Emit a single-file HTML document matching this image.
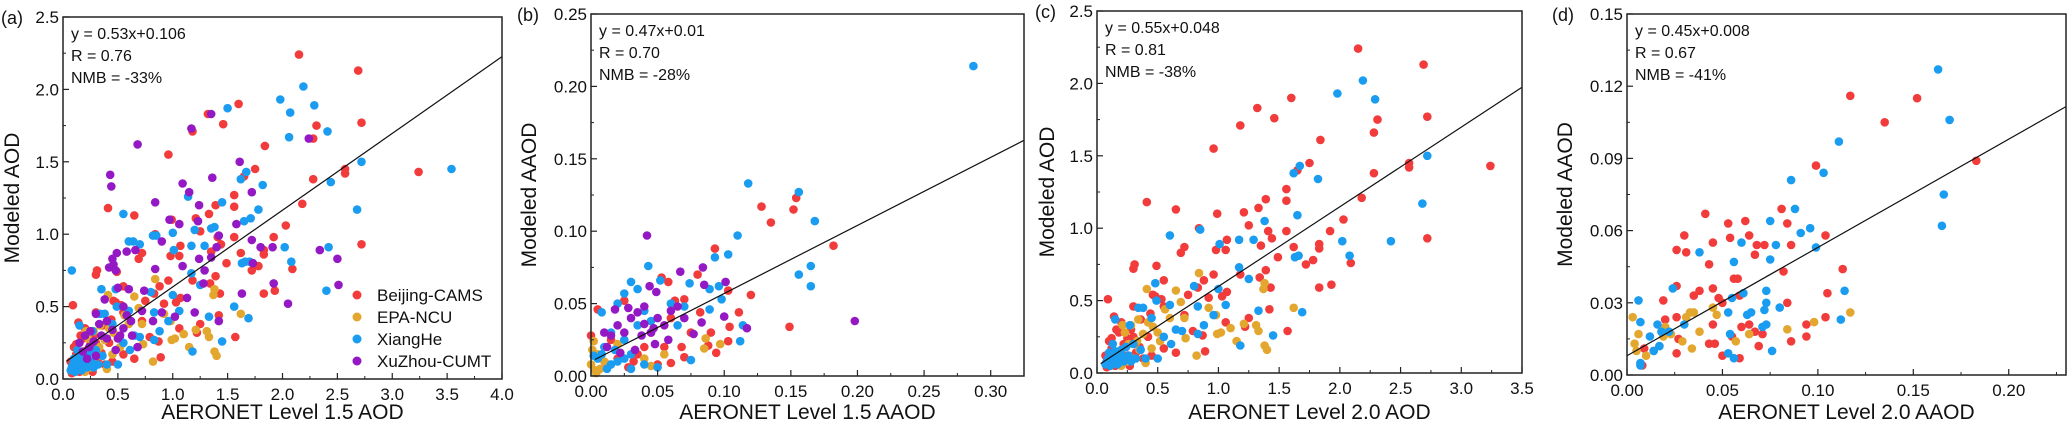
<!DOCTYPE html>
<html><head><meta charset="utf-8">
<style>
html,body{margin:0;padding:0;background:#fff;}
svg{display:block;font-family:"Liberation Sans",Arial,sans-serif;}
</style></head>
<body>
<svg id="chart" width="2067" height="427" viewBox="0 0 2067 427" xmlns="http://www.w3.org/2000/svg"></svg>
<script>
// ---- Data ----
const beijingC = [[2.15,2.24],[2.69,2.13],[1.6,1.9],[1.32,1.83],[1.46,1.76],[2.72,1.77],[2.31,1.75],[1.18,1.71],[2.28,1.66],[1.84,1.61],[0.96,1.55],[1.75,1.45],[2.57,1.45],[2.57,1.42],[3.24,1.43],[2.28,1.38],[1.65,1.4],[1.56,1.27],[2.18,1.21],[1.39,1.2],[1.56,1.19],[0.41,1.18],[0.65,1.13],[1.33,1.14],[1.21,1.11],[0.99,1.1],[1.25,1.02],[0.84,1.0],[2.03,1.06],[1.41,0.98],[1.56,0.98],[1.92,0.98],[1.07,0.92],[1.44,0.93],[2.72,0.93],[1.35,0.88],[1.83,0.89],[0.72,0.87],[0.69,0.83],[0.98,0.85],[1.06,0.85],[1.62,0.87],[1.49,0.8],[1.78,0.78],[1.83,0.86],[1.72,0.75],[2.09,0.76],[0.3,0.72],[0.31,0.75],[0.49,0.74],[1.18,0.68],[1.34,0.66],[1.39,0.71],[1.83,0.59],[1.43,0.59],[1.93,0.61],[0.55,0.64],[0.88,0.64],[0.96,0.68],[0.83,0.59],[1.07,0.56],[1.03,0.53],[0.09,0.51],[0.46,0.54],[0.48,0.53],[0.53,0.51],[0.75,0.54],[0.92,0.52],[0.3,0.46],[0.55,0.46],[0.44,0.41],[0.72,0.4],[0.36,0.37],[1.22,0.32],[1.25,0.38],[1.42,0.44],[1.06,0.35],[0.14,0.39],[0.2,0.35],[0.79,0.29],[0.87,0.26],[1.57,0.29],[0.89,0.15],[0.65,0.14],[0.55,0.17],[0.35,0.18],[0.25,0.24],[0.12,0.24],[0.08,0.04],[0.2,0.1],[0.32,0.14],[0.12,0.17],[0.18,0.28],[0.28,0.3],[0.42,0.25],[0.1,0.08],[0.15,0.05],[0.25,0.12],[0.38,0.1],[0.1,0.22],[0.16,0.3],[0.22,0.2],[0.3,0.25],[0.07,0.12],[0.13,0.06],[0.27,0.05],[0.45,0.12]];
const epaC = [[0.84,0.69],[1.38,0.62],[1.37,0.58],[0.41,0.58],[0.65,0.57],[0.69,0.49],[0.92,0.45],[0.56,0.44],[0.34,0.37],[0.28,0.33],[0.46,0.32],[0.21,0.33],[0.98,0.4],[0.6,0.38],[0.72,0.38],[1.21,0.34],[1.31,0.33],[1.33,0.29],[0.99,0.27],[1.02,0.28],[1.1,0.31],[0.73,0.24],[1.15,0.22],[1.38,0.19],[1.4,0.16],[0.82,0.12],[1.62,0.45],[0.26,0.2],[0.4,0.07],[0.35,0.16],[0.3,0.1],[0.2,0.05],[0.5,0.28],[0.38,0.27],[0.45,0.17],[0.52,0.22],[0.25,0.08],[0.33,0.22],[0.18,0.15],[0.23,0.28],[0.42,0.35],[0.15,0.08]];
const xiangheC = [[2.19,2.02],[1.98,1.93],[2.29,1.89],[2.72,1.5],[1.67,1.43],[1.62,1.38],[1.82,1.34],[2.68,1.17],[1.65,1.09],[1.38,1.05],[0.85,0.99],[1.01,0.89],[1.17,0.92],[1.29,0.92],[2.42,0.91],[2.02,0.91],[0.6,0.95],[1.63,0.8],[1.66,0.81],[2.08,0.81],[1.17,0.73],[1.25,0.65],[0.8,0.6],[1.0,0.58],[0.48,0.62],[0.83,0.46],[0.49,0.5],[1.06,0.47],[0.6,0.47],[1.33,0.43],[1.69,0.42],[0.34,0.45],[0.38,0.45],[0.96,0.4],[0.45,0.38],[0.88,0.33],[0.15,0.37],[0.27,0.33],[1.45,0.26],[1.18,0.19],[0.61,0.2],[0.7,0.29],[0.83,0.27],[0.5,0.1],[0.4,0.1],[0.28,0.08],[0.2,0.12],[0.15,0.15],[0.12,0.1],[0.1,0.06],[0.08,0.08],[0.17,0.06],[0.24,0.18],[0.3,0.2],[0.13,0.2],[0.1,0.14],[0.22,0.08],[0.36,0.16],[0.55,0.25],[0.65,0.3],[0.14,0.12],[0.18,0.09],[0.09,0.1],[0.11,0.05],[0.16,0.1],[0.2,0.16],[0.26,0.12],[0.32,0.1],[0.07,0.06],[0.12,0.13]];
const xiangheExtraA = [[0.08,0.75],[0.55,1.14],[0.64,0.95],[0.82,0.99],[1.5,1.87],[2.07,1.84],[2.41,1.71],[2.06,1.67],[3.54,1.45],[2.44,1.36],[1.14,1.26],[1.45,1.22],[1.35,1.04],[1.78,1.17],[2.4,0.61],[1.56,0.5],[1.7,0.81],[0.35,0.62],[1.0,1.01],[1.71,1.11],[0.7,0.93],[1.2,1.03]];
const xuzhouA = [[0.68,1.62],[0.43,1.41],[0.44,1.33],[1.35,1.83],[1.17,1.73],[2.24,1.66],[1.61,1.5],[1.09,1.35],[1.15,1.29],[1.36,1.39],[0.84,1.22],[1.24,1.2],[0.97,1.1],[1.23,1.09],[1.58,1.07],[1.72,1.29],[1.06,1.07],[1.42,0.99],[0.9,0.95],[1.24,0.83],[1.4,0.91],[1.72,0.96],[1.8,0.91],[1.91,0.91],[2.34,0.89],[2.5,0.83],[1.73,0.8],[0.42,0.77],[0.45,0.83],[0.49,0.87],[0.58,0.88],[0.66,0.89],[0.46,0.79],[0.48,0.75],[0.84,0.76],[1.09,0.78],[1.29,0.75],[1.28,0.66],[1.35,0.84],[1.63,0.59],[1.92,0.66],[2.51,0.65],[2.05,0.52],[1.13,0.56],[0.74,0.61],[0.6,0.62],[0.5,0.63],[0.38,0.55],[0.55,0.5],[0.72,0.47],[0.82,0.4],[1.42,0.4],[1.2,0.46],[0.3,0.45],[0.4,0.4],[0.35,0.3],[0.5,0.28],[0.63,0.3],[0.68,0.22],[0.28,0.26],[0.24,0.22],[0.18,0.19],[0.3,0.16],[0.45,0.34],[0.58,0.44],[0.9,0.46],[1.02,0.43],[0.2,0.3],[0.15,0.25],[0.48,0.2],[0.52,0.3],[0.62,0.4],[0.25,0.33],[0.33,0.38],[0.4,0.28],[0.55,0.35],[0.22,0.14]];

const beijingB = [[0.128,0.117],[0.135,0.106],[0.152,0.115],[0.154,0.123],[0.182,0.09],[0.093,0.088],[0.08,0.07],[0.103,0.059],[0.12,0.056],[0.082,0.044],[0.111,0.044],[0.104,0.034],[0.149,0.034],[0.09,0.03],[0.103,0.024],[0.094,0.016],[0.088,0.021],[0.07,0.053],[0.063,0.052],[0.058,0.065],[0.053,0.068],[0.025,0.052],[0.005,0.046],[0.06,0.04],[0.045,0.03],[0.068,0.02],[0.07,0.013],[0.05,0.008],[0.028,0.006],[0.055,0.02],[0.015,0.025],[0.035,0.015],[0.04,0.02],[0.06,0.009],[0.0,0.028],[0.075,0.03],[0.02,0.012],[0.032,0.01],[0.012,0.008]];
const epaB = [[0.086,0.026],[0.097,0.022],[0.085,0.019],[0.002,0.024],[0.005,0.015],[0.0,0.008],[0.003,0.004],[0.01,0.01],[0.055,0.015],[0.04,0.012],[0.045,0.007],[0.02,0.022],[0.007,0.005],[0.001,0.018],[0.004,0.002]];
const xiangheB = [[0.287,0.214],[0.118,0.133],[0.156,0.127],[0.168,0.107],[0.11,0.097],[0.103,0.084],[0.093,0.082],[0.043,0.076],[0.165,0.076],[0.156,0.07],[0.165,0.062],[0.074,0.064],[0.089,0.06],[0.096,0.062],[0.098,0.053],[0.089,0.046],[0.112,0.024],[0.114,0.035],[0.075,0.011],[0.03,0.065],[0.025,0.057],[0.035,0.06],[0.052,0.066],[0.02,0.05],[0.04,0.045],[0.06,0.05],[0.008,0.044],[0.015,0.03],[0.025,0.025],[0.01,0.02],[0.005,0.012],[0.02,0.01],[0.03,0.015],[0.04,0.008],[0.05,0.006],[0.012,0.005],[0.035,0.035],[0.045,0.038],[0.07,0.048],[0.065,0.035],[0.002,0.014],[0.018,0.018],[0.015,0.008],[0.025,0.012],[0.008,0.015],[0.03,0.005]];
const xuzhouB = [[0.042,0.097],[0.084,0.075],[0.067,0.072],[0.101,0.065],[0.085,0.063],[0.198,0.038],[0.117,0.033],[0.1,0.041],[0.077,0.029],[0.083,0.037],[0.044,0.062],[0.049,0.058],[0.04,0.048],[0.035,0.044],[0.03,0.04],[0.05,0.04],[0.055,0.035],[0.045,0.03],[0.038,0.028],[0.06,0.045],[0.02,0.035],[0.025,0.03],[0.015,0.028],[0.028,0.047],[0.018,0.046],[0.01,0.03],[0.058,0.025],[0.048,0.022],[0.033,0.018],[0.065,0.048],[0.07,0.04],[0.012,0.02],[0.04,0.036],[0.047,0.033],[0.022,0.016]];

const beijingD = [[0.117,0.116],[0.152,0.115],[0.135,0.105],[0.183,0.089],[0.099,0.087],[0.081,0.069],[0.084,0.063],[0.041,0.067],[0.062,0.064],[0.053,0.063],[0.03,0.058],[0.064,0.058],[0.054,0.057],[0.104,0.058],[0.026,0.052],[0.031,0.051],[0.045,0.055],[0.072,0.054],[0.068,0.054],[0.086,0.054],[0.067,0.05],[0.043,0.046],[0.082,0.043],[0.113,0.044],[0.056,0.04],[0.058,0.04],[0.026,0.037],[0.045,0.036],[0.035,0.033],[0.038,0.035],[0.019,0.031],[0.048,0.032],[0.059,0.033],[0.084,0.03],[0.105,0.034],[0.05,0.03],[0.02,0.023],[0.026,0.024],[0.045,0.021],[0.064,0.021],[0.104,0.024],[0.094,0.021],[0.06,0.02],[0.067,0.018],[0.071,0.017],[0.055,0.016],[0.094,0.016],[0.086,0.014],[0.027,0.015],[0.043,0.013],[0.046,0.013],[0.069,0.012],[0.026,0.009],[0.05,0.008],[0.059,0.007],[0.008,0.004],[0.009,0.011]];
const epaD = [[0.003,0.024],[0.033,0.026],[0.035,0.026],[0.031,0.024],[0.045,0.028],[0.047,0.025],[0.117,0.026],[0.098,0.022],[0.084,0.019],[0.064,0.017],[0.038,0.018],[0.006,0.017],[0.019,0.016],[0.023,0.017],[0.029,0.014],[0.034,0.011],[0.004,0.013],[0.057,0.014],[0.005,0.01],[0.01,0.008],[0.014,0.01],[0.017,0.012],[0.02,0.02]];
const xiangheD = [[0.163,0.127],[0.169,0.106],[0.111,0.097],[0.103,0.084],[0.086,0.081],[0.088,0.069],[0.166,0.075],[0.165,0.062],[0.075,0.064],[0.096,0.061],[0.091,0.059],[0.06,0.055],[0.078,0.054],[0.099,0.053],[0.038,0.051],[0.056,0.047],[0.075,0.048],[0.024,0.036],[0.073,0.035],[0.114,0.035],[0.061,0.034],[0.055,0.032],[0.073,0.03],[0.08,0.028],[0.006,0.031],[0.053,0.026],[0.072,0.027],[0.063,0.025],[0.065,0.026],[0.112,0.023],[0.007,0.022],[0.016,0.021],[0.03,0.021],[0.071,0.02],[0.073,0.021],[0.018,0.018],[0.022,0.018],[0.012,0.016],[0.054,0.017],[0.017,0.012],[0.014,0.01],[0.076,0.01],[0.053,0.009],[0.056,0.007],[0.007,0.005],[0.007,0.004]];

const ticksA = ["0.0","0.5","1.0","1.5","2.0","2.5","3.0","3.5","4.0"];
const ticksAY = ["0.0","0.5","1.0","1.5","2.0","2.5"];
const ticksB = ["0.00","0.05","0.10","0.15","0.20","0.25","0.30"];
const ticksBY = ["0.00","0.05","0.10","0.15","0.20","0.25"];
const ticksC = ["0.0","0.5","1.0","1.5","2.0","2.5","3.0","3.5"];
const ticksD = ["0.00","0.05","0.10","0.15","0.20"];
const ticksDY = ["0.00","0.03","0.06","0.09","0.12","0.15"];
const fitSlopes = [0.53,0.47,0.55,0.45];
const fitIntercepts = [0.106,0.01,0.048,0.008];

const COL = {bj:"#f23b3b", epa:"#e3a72f", xh:"#1a9cf0", xz:"#9418c4"};
const NS = "http://www.w3.org/2000/svg";
const svg = document.getElementById('chart');
function mk(tag, attrs, parent){ const e=document.createElementNS(NS,tag); for(const k in attrs) e.setAttribute(k,attrs[k]); (parent||svg).appendChild(e); return e; }

function panel(cfg){
  const g = mk('g',{});
  
  
  const sx = v => cfg.L + (v - 0)/cfg.xmax*(cfg.R-cfg.L);
  const sy = v => cfg.B - v/cfg.ymax*(cfg.B-cfg.T);
  cfg.series.forEach(s=>{
    const sg = mk('g',{},g);
    
    
    s.data.forEach(p=>{
      const c = mk('circle',{cx:sx(p[0]).toFixed(1), cy:sy(p[1]).toFixed(1), r:4.3, fill:s.color},sg);
      
      
    });
  });
  const x0 = cfg.fitStart, x1 = cfg.xmax;
  const fl = mk('line',{x1:sx(x0),y1:sy(cfg.m*x0+cfg.b),x2:sx(x1),y2:sy(cfg.m*x1+cfg.b),stroke:"#111","stroke-width":1.2},g);
  
  
  const fr = mk('rect',{x:cfg.L,y:cfg.T,width:cfg.R-cfg.L,height:cfg.B-cfg.T,fill:"none",stroke:"#222","stroke-width":1.5},g);
  
  
  cfg.xt.forEach((t,i)=>{
    const v = i*cfg.xstep, x = sx(v);
    mk('line',{x1:x,y1:cfg.B,x2:x,y2:cfg.B-6,stroke:"#222","stroke-width":1.2},g);
    const vm = v + cfg.xstep/2;
    if (vm < cfg.xmax) mk('line',{x1:sx(vm),y1:cfg.B,x2:sx(vm),y2:cfg.B-3,stroke:"#222","stroke-width":1},g);
    const tx = mk('text',{x:x,y:cfg.B+21,"font-size":17,"text-anchor":"middle",fill:"#111"},g);
    tx.textContent = t;
    
    
  });
  cfg.yt.forEach((t,i)=>{
    const v = i*cfg.ystep, y = sy(v);
    mk('line',{x1:cfg.L,y1:y,x2:cfg.L+6,y2:y,stroke:"#222","stroke-width":1.2},g);
    const vm = v + cfg.ystep/2;
    if (vm < cfg.ymax) mk('line',{x1:cfg.L,y1:sy(vm),x2:cfg.L+3,y2:sy(vm),stroke:"#222","stroke-width":1},g);
    const ty = mk('text',{x:cfg.L-4,y:y+6,"font-size":17,"text-anchor":"end",fill:"#111"},g);
    ty.textContent = t;
    
    
  });
  const xtl = mk('text',{x:(cfg.L+cfg.R)/2,y:419,"font-size":21,"text-anchor":"middle",fill:"#111"},g);
  xtl.textContent = cfg.xlabel;
  
  
  const yc = (cfg.T+cfg.B)/2;
  const ytl = mk('text',{x:cfg.ytx,y:yc,"font-size":21,"text-anchor":"middle",fill:"#111",transform:`rotate(-90 ${cfg.ytx} ${yc})`},g);
  ytl.textContent = cfg.ylabel;
  
  
  const pl = mk('text',{x:cfg.plx,y:cfg.T+7,"font-size":18,fill:"#111"},g);
  pl.textContent = '('+cfg.id+')';
  
  
  cfg.stats.forEach((s,i)=>{
    const st = mk('text',{x:cfg.L+8,y:cfg.T+22+i*22,"font-size":16,fill:"#111"},g);
    st.textContent = s;
    
    
  });
  return {g,sx,sy};
}

panel({id:'a',L:63,R:502,T:17,B:379,xmax:4,ymax:2.5,xstep:0.5,ystep:0.5,xt:ticksA,yt:ticksAY,m:fitSlopes[0],b:fitIntercepts[0],fitStart:0.03,
  xlabel:"AERONET Level 1.5 AOD",ylabel:"Modeled AOD",ytx:19,plx:1,
  stats:["y = 0.53x+0.106","R = 0.76","NMB = -33%"],
  series:[{name:'beijing-cams',data:beijingC,color:COL.bj},{name:'epa-ncu',data:epaC,color:COL.epa},{name:'xianghe',data:xiangheC.concat(xiangheExtraA),color:COL.xh},{name:'xuzhou-cumt',data:xuzhouA,color:COL.xz}]});
panel({id:'b',L:591,R:1024,T:14,B:376,xmax:0.325,ymax:0.25,xstep:0.05,ystep:0.05,xt:ticksB,yt:ticksBY,m:fitSlopes[1],b:fitIntercepts[1],fitStart:0.003,
  xlabel:"AERONET Level 1.5 AAOD",ylabel:"Modeled AAOD",ytx:536,plx:517,
  stats:["y = 0.47x+0.01","R = 0.70","NMB = -28%"],
  series:[{name:'beijing-cams',data:beijingB,color:COL.bj},{name:'epa-ncu',data:epaB,color:COL.epa},{name:'xianghe',data:xiangheB,color:COL.xh},{name:'xuzhou-cumt',data:xuzhouB,color:COL.xz}]});
panel({id:'c',L:1097,R:1522,T:11,B:373,xmax:3.5,ymax:2.5,xstep:0.5,ystep:0.5,xt:ticksC,yt:ticksAY,m:fitSlopes[2],b:fitIntercepts[2],fitStart:0.03,
  xlabel:"AERONET Level 2.0 AOD",ylabel:"Modeled AOD",ytx:1054,plx:1035,
  stats:["y = 0.55x+0.048","R = 0.81","NMB = -38%"],
  series:[{name:'beijing-cams',data:beijingC,color:COL.bj},{name:'epa-ncu',data:epaC,color:COL.epa},{name:'xianghe',data:xiangheC,color:COL.xh}]});
panel({id:'d',L:1627,R:2066,T:14,B:375,xmax:0.23,ymax:0.15,xstep:0.05,ystep:0.03,xt:ticksD,yt:ticksDY,m:fitSlopes[3],b:fitIntercepts[3],fitStart:0,
  xlabel:"AERONET Level 2.0 AAOD",ylabel:"Modeled AAOD",ytx:1572,plx:1552,
  stats:["y = 0.45x+0.008","R = 0.67","NMB = -41%"],
  series:[{name:'beijing-cams',data:beijingD,color:COL.bj},{name:'epa-ncu',data:epaD,color:COL.epa},{name:'xianghe',data:xiangheD,color:COL.xh}]});

const legNames = ["Beijing-CAMS","EPA-NCU","XiangHe","XuZhou-CUMT"];
const legColors = [COL.bj,COL.epa,COL.xh,COL.xz];
const lg = mk('g',{});


legNames.forEach((n,i)=>{
  const y = 295 + i*22;
  const e = mk('g',{},lg);
  
  
  mk('circle',{cx:357,cy:y,r:4.5,fill:legColors[i]},e);
  const t = mk('text',{x:377,y:y+6,"font-size":17,fill:"#111"},e);
  t.textContent = n;
});
</script>
</body></html>
